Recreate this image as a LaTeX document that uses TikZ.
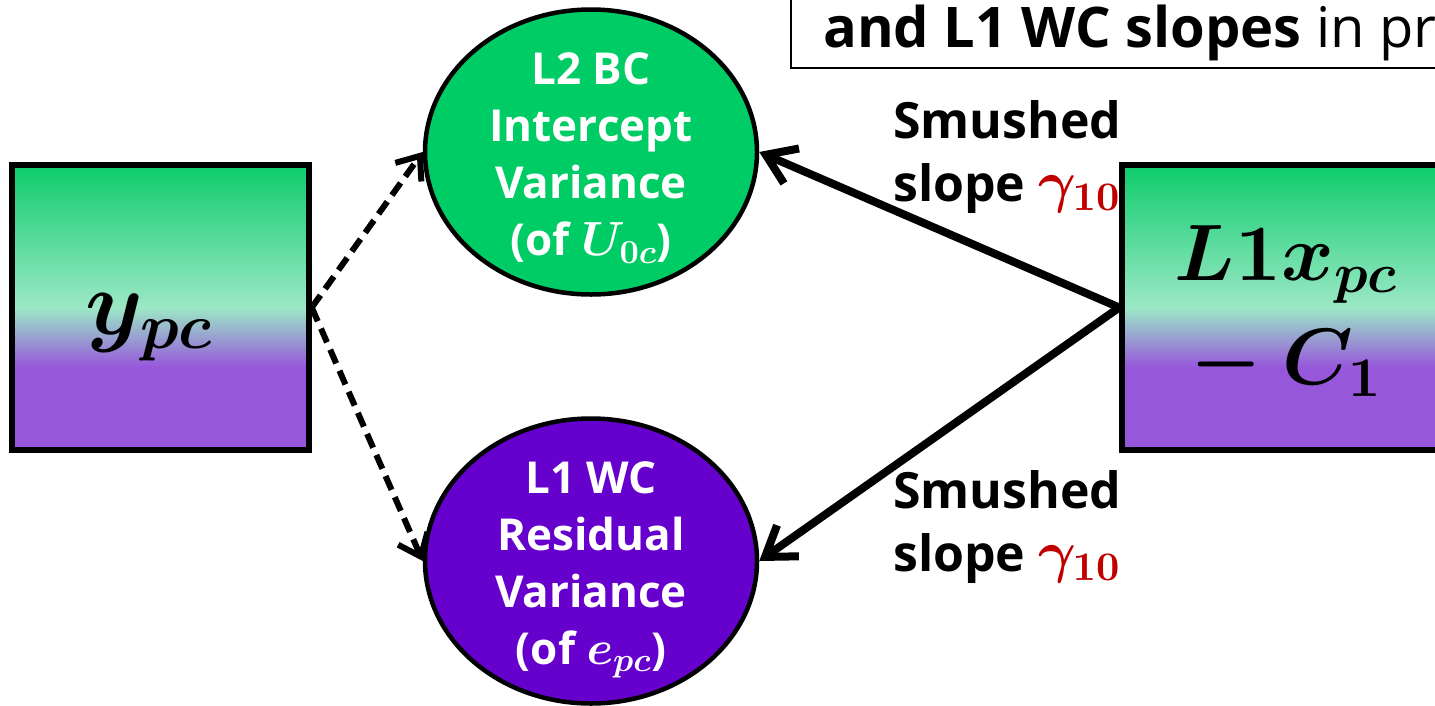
\documentclass[tikz,border=0pt]{standalone}
\usepackage[no-math]{fontspec}
\setmainfont{Open Sans}
\usetikzlibrary{shapes.geometric,arrows.meta}

% scalable Computer Modern math at any size
\DeclareFontShape{OML}{cmm}{m}{it}{<->cmmi10}{}
\DeclareFontShape{OML}{cmm}{b}{it}{<->cmmib10}{}
\DeclareFontShape{OT1}{cmr}{m}{n}{<->cmr10}{}
\DeclareFontShape{OT1}{cmr}{bx}{n}{<->cmbx10}{}
\DeclareFontShape{OMS}{cmsy}{m}{n}{<->cmsy10}{}
\DeclareFontShape{OMS}{cmsy}{b}{n}{<->cmbsy10}{}

\definecolor{boxgreen}{RGB}{14,204,108}
\definecolor{boxmint}{RGB}{155,232,198}
\definecolor{boxpurple}{RGB}{151,87,219}
\definecolor{bcgreen}{RGB}{0,204,102}
\definecolor{wcpurple}{RGB}{102,0,204}
\definecolor{slopered}{RGB}{192,0,0}

% green on top, fading through mint into purple at the bottom
\pgfdeclareverticalshading{varbox}{100bp}{color(0bp)=(boxpurple); color(39.5bp)=(boxpurple); color(50bp)=(boxmint); color(75bp)=(boxgreen); color(100bp)=(boxgreen)}

\newcommand{\gammaslope}{{\color{slopered}\fontsize{58}{63}\selectfont$\gamma_{10}$}}
\newcommand{\ellmath}[1]{{\fontsize{48}{57}\selectfont\boldmath$#1$}}

\begin{document}
\begin{tikzpicture}[x=1pt,y=-1pt,
  varnode/.style={rectangle, draw=black, line width=5.5pt, shading=varbox,
    minimum height=285pt, inner sep=0pt, align=center},
  vartext/.style={inner sep=0pt, align=center},
  varellipse/.style={ellipse, draw=black, line width=4.5pt,
    minimum width=332pt, minimum height=285pt, inner sep=0pt},
  ellipsetext/.style={text=white, inner sep=0pt, align=center,
    font=\bfseries\fontsize{44}{57}\selectfont},
  slopelabel/.style={anchor=west, inner sep=0pt, align=left,
    font=\bfseries\fontsize{50}{63}\selectfont\boldmath},
  dasharrow/.style={line width=6pt, dash pattern=on 15pt off 8pt,
    -{Straight Barb[length=20pt,width=32pt,line width=6pt]}},
  slopearrow/.style={line width=8pt,
    -{Straight Barb[length=28pt,width=38pt,line width=8pt]}}
]
\useasboundingbox (0,0) rectangle (1435,705);
\clip (0,0) rectangle (1435,705);

% heading frame, running off the top and right edges
\draw[line width=2.5pt, fill=white] (791,-30) rectangle (1500,68);
\node (title) [anchor=base west, inner sep=0pt, font=\fontsize{56}{66}\selectfont]
  at (823,47) {\textbf{and L1 WC slopes} in pr};

% observed variables
\node (ly) [varnode, minimum width=297pt] at (160.5,307.5) {};
\node (lytext) [vartext, font=\fontsize{92}{100}\selectfont\boldmath]
  at (149,327) {$y_{pc}$};
\node (lx) [varnode, minimum width=328pt] at (1286,307.5) {};
\node (lxtext) [vartext, font=\fontsize{80}{104}\selectfont\boldmath]
  at (1286,311) {$L1x_{pc}$\\$-\mskip\medmuskip C_1$};

% variance components
\node (bc) [varellipse, fill=bcgreen] at (591,152) {};
\node (bctext) [ellipsetext] at (591,158)
  {L2 BC\\Intercept\\Variance\\(of \ellmath{U_{0c}})};
\node (wc) [varellipse, fill=wcpurple] at (591,561) {};
\node (wctext) [ellipsetext] at (591,570)
  {L1 WC\\Residual\\Variance\\(of \ellmath{e_{pc}})};

% paths
\draw[dasharrow] (ly.east) -- (bc.west);
\draw[dasharrow] (ly.east) -- (wc.west);
\draw[slopearrow] (lx.west) -- (bc.east);
\draw[slopearrow] (lx.west) -- (wc.east);

% slope labels
\node (s1) [slopelabel] at (893,157) {Smushed\\slope \gammaslope};
\node (s2) [slopelabel] at (893,527) {Smushed\\slope \gammaslope};
\end{tikzpicture}
\end{document}
